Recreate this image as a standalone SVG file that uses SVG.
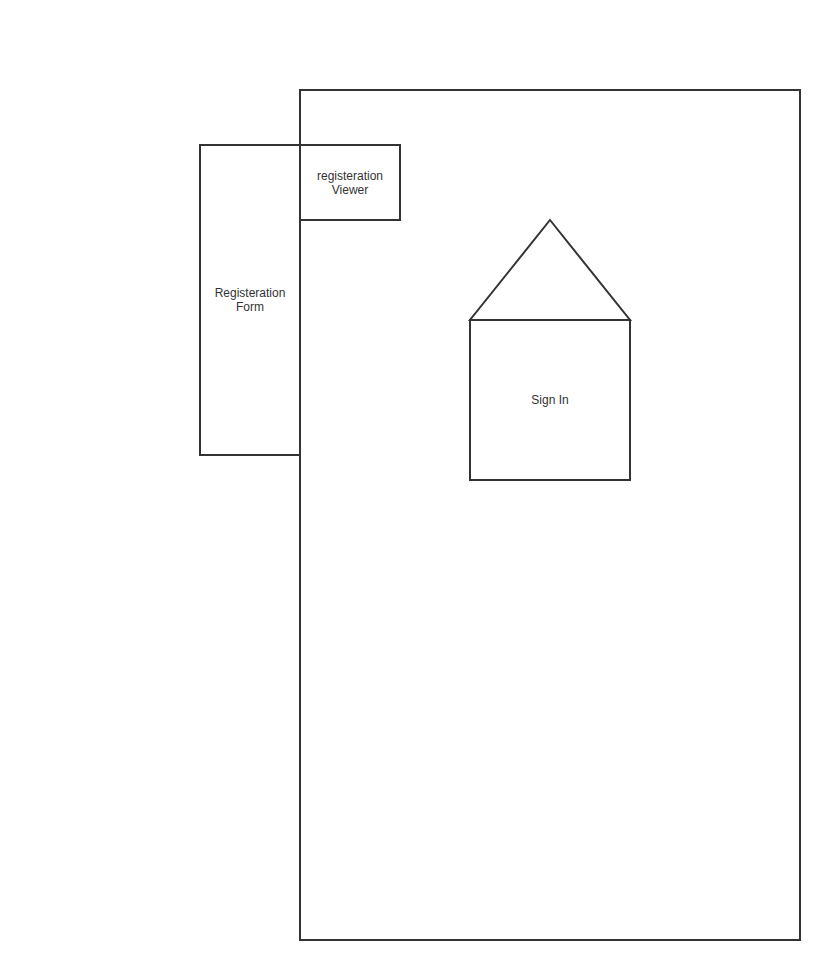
<svg xmlns="http://www.w3.org/2000/svg" width="820" height="960" viewBox="0 0 820 960">
<style>
.s{fill:#fff;stroke:#333;stroke-width:2}
.t{font-family:"Liberation Sans",Arial,sans-serif;font-size:12px;fill:#333;text-anchor:middle}
</style>
<rect width="820" height="960" fill="#fff"/>
<g id="container"><rect class="s" x="300" y="90" width="500" height="850"/></g>
<g id="registration-form"><rect class="s" x="200" y="145" width="100" height="310"/>
<text class="t" x="250" y="297">Registeration</text><text class="t" x="250" y="311">Form</text></g>
<g id="registration-viewer"><rect class="s" x="300" y="145" width="100" height="75"/>
<text class="t" x="350" y="180">registeration</text><text class="t" x="350" y="194">Viewer</text></g>
<g id="roof"><polygon class="s" points="550,220 630,320 470,320"/></g>
<g id="sign-in"><rect class="s" x="470" y="320" width="160" height="160"/>
<text class="t" x="550" y="404">Sign In</text></g>
<g id="connectors"></g>
</svg>
